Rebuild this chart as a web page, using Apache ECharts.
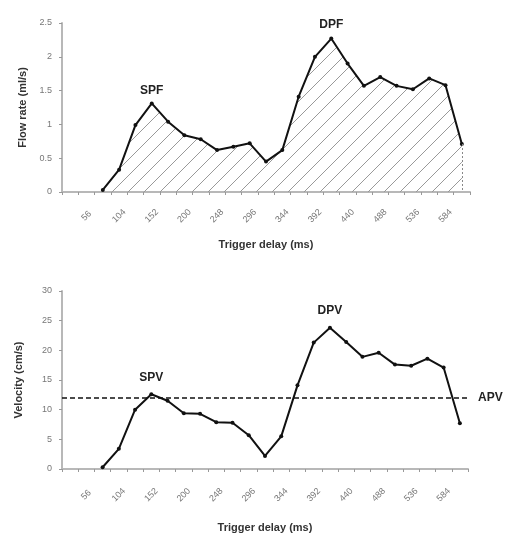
<!DOCTYPE html>
<html><head><meta charset="utf-8">
<script src="https://cdn.jsdelivr.net/npm/echarts@6/dist/echarts.min.js"></script>
<style>html,body{margin:0;padding:0;background:#fff}#c{width:507px;height:534px}</style>
</head><body><div id="c"></div>
<script>
// Trigger delay categories (ms)
var delays = ['32','56','80','104','128','152','176','200','224','248','272','296','320','344','368','392','416','440','464','488','512','536','560','584','608'];
// Flow rate (ml/s)
var flowRate = [null,null,0.03,0.33,0.99,1.31,1.04,0.84,0.78,0.62,0.67,0.72,0.45,0.62,1.41,2.0,2.27,1.90,1.57,1.70,1.57,1.52,1.68,1.58,0.71];
// Velocity (cm/s)
var velocity = [null,null,0.3,3.4,10.0,12.6,11.5,9.4,9.3,7.9,7.8,5.7,2.2,5.5,14.1,21.3,23.8,21.4,18.9,19.6,17.6,17.4,18.6,17.1,7.7];
var apv = 12;
var peakLabels = {flow: {5: 'SPF', 16: 'DPF'}, vel: {5: 'SPV', 16: 'DPV'}};
var flowTicks = [0, 0.5, 1, 1.5, 2, 2.5];
var velTicks = [0, 5, 10, 15, 20, 25, 30];

var font = 'Liberation Sans, Arial, sans-serif';
function hatch() {
  var c = document.createElement('canvas');
  c.width = 16; c.height = 16;
  var g = c.getContext('2d');
  g.strokeStyle = '#999'; g.lineWidth = 1;
  g.beginPath();
  g.moveTo(-2, 18); g.lineTo(18, -2);
  g.moveTo(-2, 2); g.lineTo(2, -2);
  g.moveTo(14, 18); g.lineTo(18, 14);
  g.stroke();
  return c;
}
function withLabels(vals, labels, dist) {
  return vals.map(function (v, i) {
    if (labels[i]) {
      return {value: v, label: {show: true, position: 'top', distance: dist[labels[i]] || 8, formatter: labels[i],
        fontFamily: font, fontWeight: 'bold', fontSize: 12, color: '#222'}};
    }
    return v;
  });
}
function xAxis(grid, gap, margin) {
  return {
    type: 'category', gridIndex: grid, data: delays, boundaryGap: true,
    name: 'Trigger delay (ms)', nameLocation: 'middle', nameGap: gap,
    nameTextStyle: {fontFamily: font, fontWeight: 'bold', fontSize: 11, color: '#333'},
    axisLine: {lineStyle: {color: '#b8b8b8', width: 2}},
    axisTick: {show: true, length: 3, interval: 0, lineStyle: {color: '#999'}},
    axisLabel: {interval: function (i) { return i % 2 === 1; }, rotate: 45, margin: margin,
      align: 'center', verticalAlign: 'middle',
      fontFamily: font, fontSize: 9, color: '#777'}
  };
}
function yAxis(grid, name, ticks, gap) {
  return {
    type: 'value', gridIndex: grid, min: ticks[0], max: ticks[ticks.length - 1],
    interval: ticks[1] - ticks[0],
    name: name, nameLocation: 'middle', nameGap: gap,
    nameTextStyle: {fontFamily: font, fontWeight: 'bold', fontSize: 11, color: '#333'},
    axisLine: {show: true, lineStyle: {color: '#b8b8b8', width: 2}},
    axisTick: {show: true, length: 3, lineStyle: {color: '#999'}},
    splitLine: {show: false},
    axisLabel: {margin: 10, fontFamily: font, fontSize: 9, color: '#777'}
  };
}
var lastIdx = delays.length - 1;
var chart = echarts.init(document.getElementById('c'));
chart.setOption({
  animation: false,
  backgroundColor: '#fff',
  grid: [
    {left: 62, right: 37, top: 23, height: 169},
    {left: 62, right: 39, top: 291, height: 182}
  ],
  xAxis: [xAxis(0, 47, 24), xAxis(1, 53, 26)],
  yAxis: [yAxis(0, 'Flow rate (ml/s)', flowTicks, 34), yAxis(1, 'Velocity (cm/s)', velTicks, 38)],
  series: [
    {
      type: 'line', xAxisIndex: 0, yAxisIndex: 0,
      data: withLabels(flowRate, peakLabels.flow, {SPF: 5, DPF: 6}),
      symbol: 'circle', symbolSize: 4, itemStyle: {color: '#111'},
      lineStyle: {color: '#111', width: 2},
      areaStyle: {color: {image: hatch(), repeat: 'repeat'}, opacity: 1},
      markLine: {silent: true, symbol: 'none', label: {show: false},
        lineStyle: {color: '#888', type: [2, 2], width: 1},
        data: [[{coord: [delays[lastIdx], flowRate[lastIdx]]}, {coord: [delays[lastIdx], 0]}]]}
    },
    {
      type: 'line', xAxisIndex: 1, yAxisIndex: 1,
      data: withLabels(velocity, peakLabels.vel, {SPV: 9, DPV: 9}),
      symbol: 'circle', symbolSize: 4, itemStyle: {color: '#111'},
      lineStyle: {color: '#111', width: 2},
      markLine: {silent: true, symbol: 'none',
        lineStyle: {color: '#111', type: [5, 3], width: 1.5},
        label: {show: true, position: 'end', formatter: 'APV', distance: 10,
          fontFamily: font, fontWeight: 'bold', fontSize: 12, color: '#222'},
        data: [{yAxis: apv}]}
    }
  ]
});
</script></body></html>
